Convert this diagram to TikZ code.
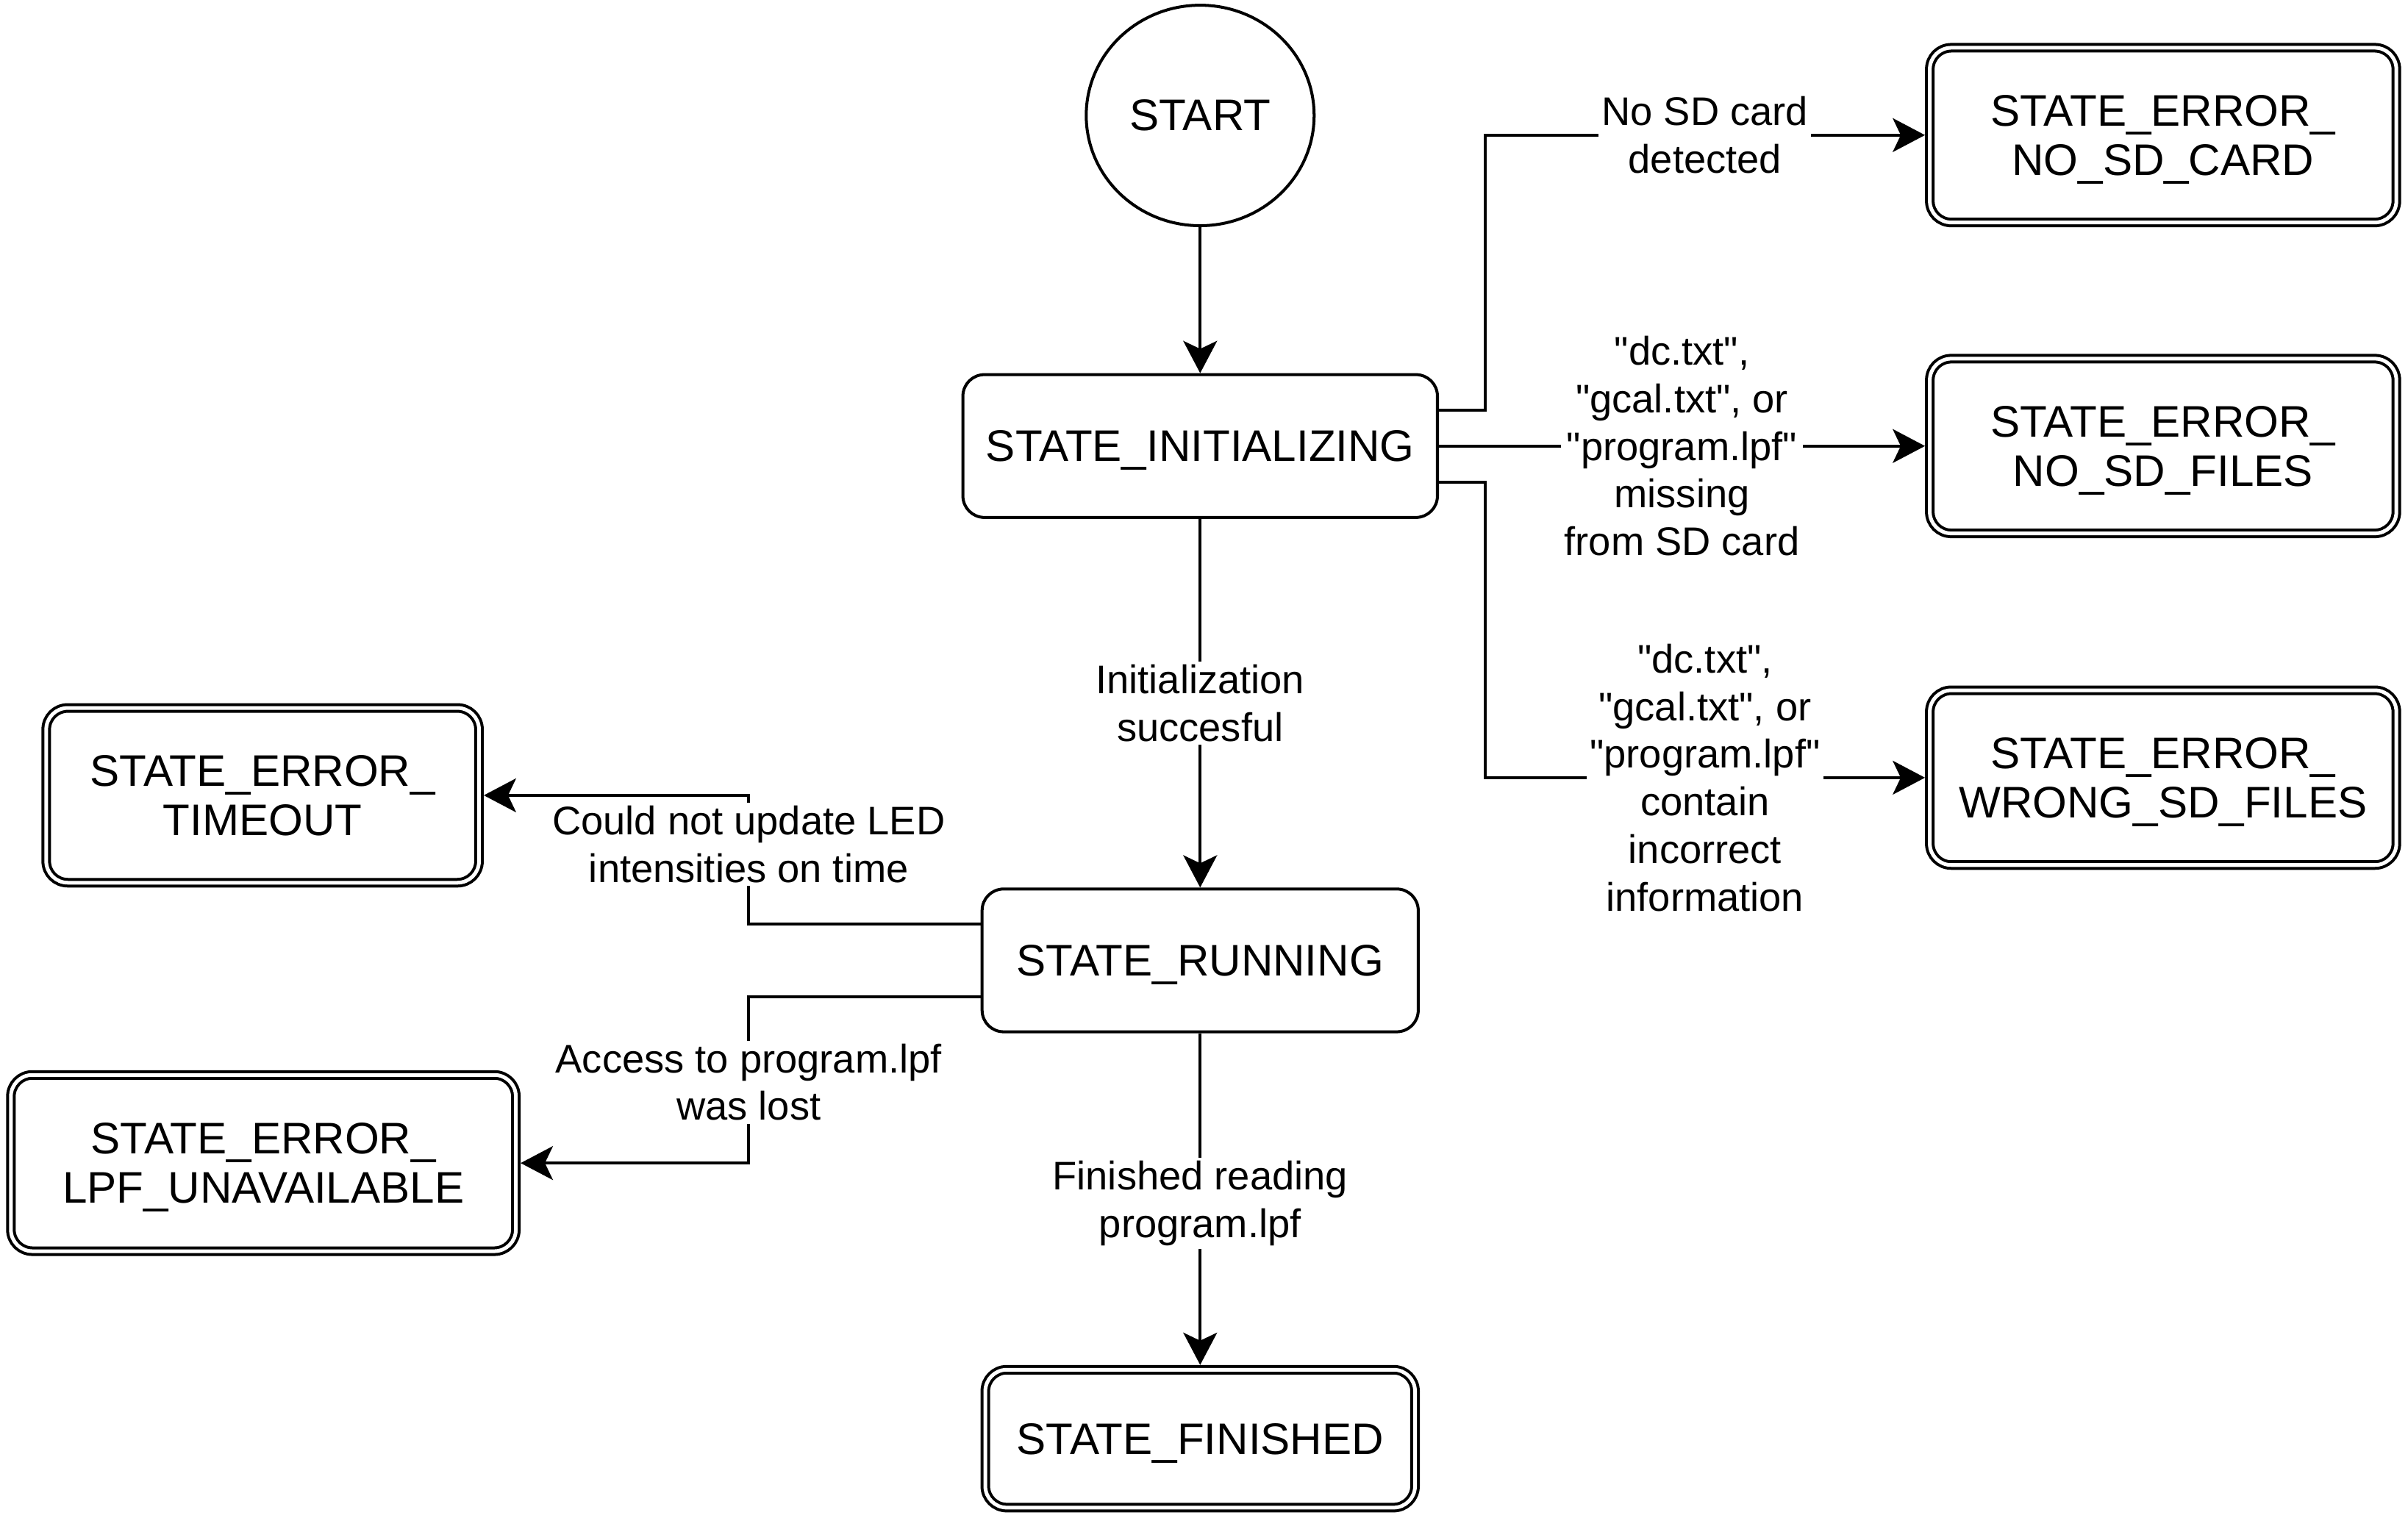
\documentclass[tikz,border=0pt]{standalone}
\usepackage{fontspec}
\setmainfont{Liberation Sans}
\usetikzlibrary{arrows.meta, positioning, shapes.geometric}

\begin{document}
\begin{tikzpicture}[
        line width=0.96pt,
        on grid,
        every node/.style={font=\fontsize{13pt}{15.5pt}\selectfont},
        state/.style={rectangle, draw, rounded corners=7pt, align=center, inner sep=0pt, text depth=0pt, minimum height=46.5pt, font=\fontsize{14.4pt}{16pt}\selectfont},
        dstate/.style={state, double, double distance=1.2pt, outer sep=1.56pt, minimum width=151.9pt, minimum height=56.9pt},
        startstate/.style={ellipse, draw, minimum width=74.2pt, minimum height=71.8pt, inner sep=0pt, font=\fontsize{14.4pt}{16pt}\selectfont},
        lbl/.style={fill=white, align=center, inner sep=1pt},
        arrow/.style={-{Stealth[length=10.5pt, width=11pt, inset=2.6pt]}}
    ]
        \useasboundingbox (0,0) rectangle (784pt,-494.3pt);
        \node[state, minimum width=154.5pt] (init) at (390.75pt,-145.25pt) {STATE\_INITIALIZING};
        \node[startstate, above=107.65pt of init] (start) {START};
        \node[state, minimum width=142pt, below=167.5pt of init] (running) {STATE\_RUNNING};
        \node[dstate, minimum width=139.9pt, minimum height=44.9pt, below=155.75pt of running] (finished) {STATE\_FINISHED};
        \node[dstate, right=313.5pt of init] (nofiles) {STATE\_ERROR\_\\NO\_SD\_FILES};
        \node[dstate, above=101.25pt of nofiles] (nocard) {STATE\_ERROR\_\\NO\_SD\_CARD};
        \node[dstate, below=108pt of nofiles] (wrongfiles) {STATE\_ERROR\_\\WRONG\_SD\_FILES};
        \node[dstate, minimum width=140.9pt, above left=53.75pt and 305.25pt of running] (timeout) {STATE\_ERROR\_\\TIMEOUT};
        \node[dstate, minimum width=164.4pt, minimum height=57.4pt, below left=66pt and 305pt of running] (lpf) {STATE\_ERROR\_\\LPF\_UNAVAILABLE};
        \coordinate[right=15pt of init.east] (busR);
        \coordinate[left=75.5pt of running.west] (busL);
        \draw[arrow] (start) -- (init);
        \draw[arrow] ([yshift=11.75pt]init.east) -| (busR |- nocard) -- node[lbl] {No SD card\\detected} (nocard);
        \draw[arrow] (init) -- node[lbl] {\textquotedbl dc.txt\textquotedbl,\\\textquotedbl gcal.txt\textquotedbl, or\\\textquotedbl program.lpf\textquotedbl\\missing\\from SD card} (nofiles);
        \draw[arrow] ([yshift=-11.75pt]init.east) -| (busR |- wrongfiles) -- node[lbl] {\textquotedbl dc.txt\textquotedbl,\\\textquotedbl gcal.txt\textquotedbl, or\\\textquotedbl program.lpf\textquotedbl\\contain\\incorrect\\information} (wrongfiles);
        \draw[arrow] (init) -- node[lbl] {Initialization\\succesful} (running);
        \draw[arrow] ([yshift=11.75pt]running.west) -| node[lbl, pos=0.81] {Could not update LED\\intensities on time} (busL |- timeout) -- (timeout);
        \draw[arrow] ([yshift=-11.75pt]running.west) -| node[lbl, pos=0.757] {Access to program.lpf\\was lost} (busL |- lpf) -- (lpf);
        \draw[arrow] (running) -- node[lbl, yshift=-1.4pt] {Finished reading\\program.lpf} (finished);
    \end{tikzpicture}
\end{document}
